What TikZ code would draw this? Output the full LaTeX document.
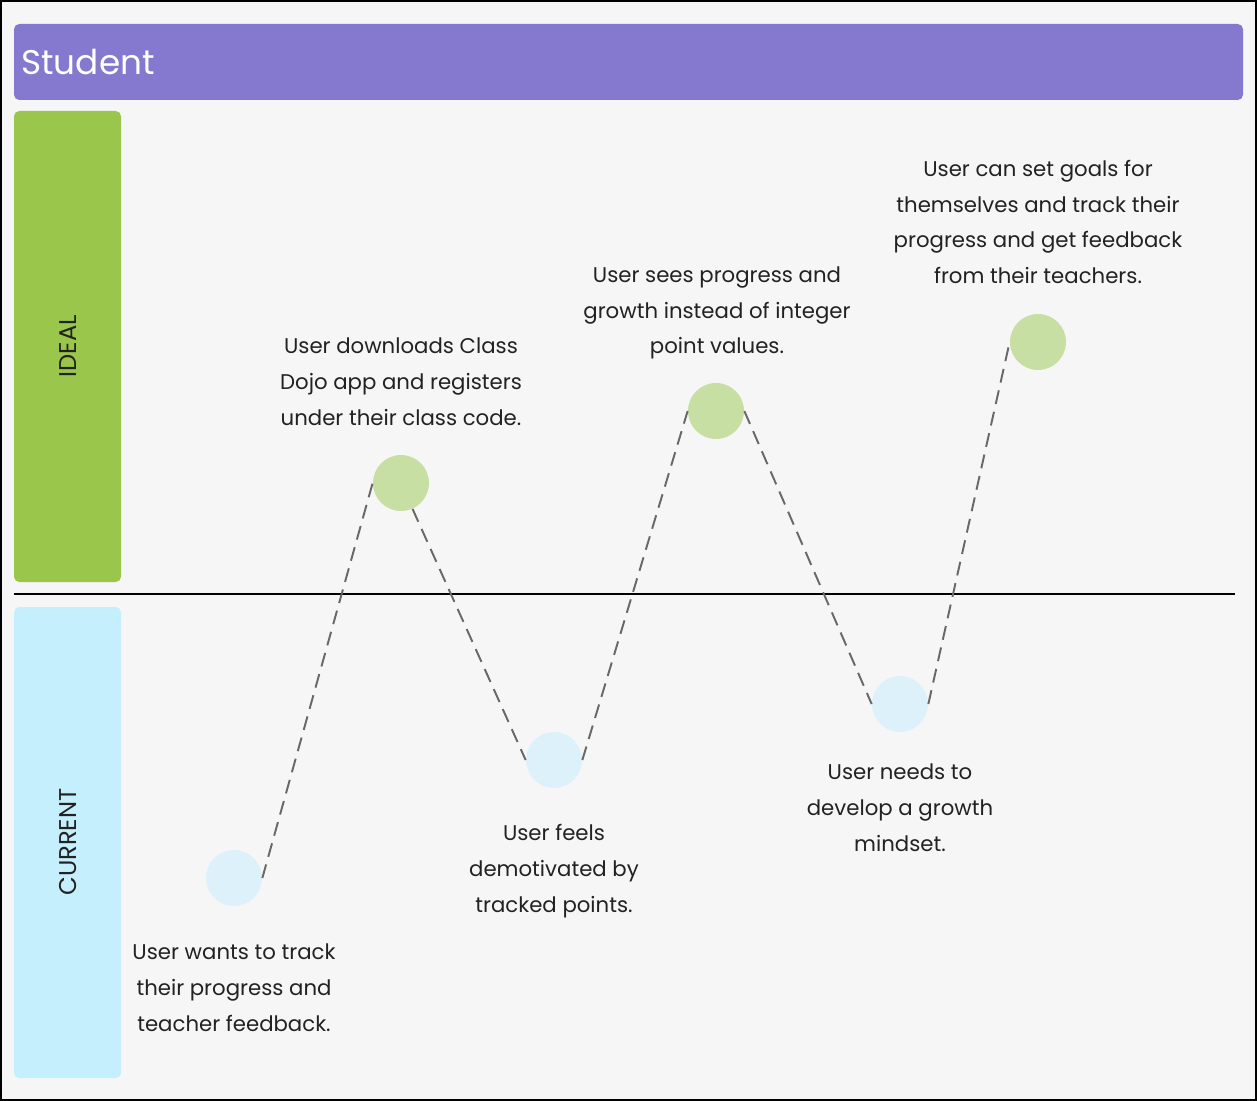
\documentclass[tikz,border=0pt]{standalone}
\usepackage{fontspec}
\setmainfont{Poppins}
\usetikzlibrary{positioning}
\definecolor{pagebg}{HTML}{F6F6F6}
\definecolor{headpurple}{HTML}{8479CF}
\definecolor{idealgreen}{HTML}{99C64B}
\definecolor{currentblue}{HTML}{C6EFFD}
\definecolor{dotgreen}{HTML}{C7DFA2}
\definecolor{dotblue}{HTML}{DDF1FB}
\definecolor{inkgray}{HTML}{222222}
\definecolor{dashgray}{HTML}{686868}

\begin{document}
\begin{tikzpicture}[x=0.02cm, y=-0.02cm,
  band/.style={rounded corners=3pt},
  lane/.style={rotate=90, font=\fontsize{13.8}{16}\selectfont, text=inkgray},
  stage/.style={circle, inner sep=0pt, minimum size=1.12cm},
  caption/.style={align=center, text=inkgray,
    font=\fontsize{12.1}{20.4}\selectfont},
  journey/.style={draw=dashgray, line width=1.1pt, dash pattern=on 8pt off 4.5pt}]
  % page and frame
  \useasboundingbox (0,0) rectangle (1257,1101);
  \fill[pagebg] (0,0) rectangle (1257,1101);
  \draw[black, line width=1.2pt] (1,1) rectangle (1256,1100);

  % header and lanes
  \fill[band, headpurple] (14,24) rectangle (1243,100);
  \node[anchor=west, inner sep=0pt, text=white, font=\fontsize{19.5}{23}\selectfont] (title) at (21,62) {Student};
  \fill[band, idealgreen] (14,111) rectangle (121,582);
  \fill[band, currentblue] (14,607) rectangle (121,1078);
  \node[lane] (ideal) at (68,346) {IDEAL};
  \node[lane] (current) at (68,842) {CURRENT};
  \draw[black, line width=0.6pt] (14,594) -- (1235,594);

  % stages
  \node[stage, fill=dotblue] (c1) at (234,878) {};
  \node[stage, fill=dotgreen] (i1) at (401,483) {};
  \node[stage, fill=dotblue] (c2) at (554,760) {};
  \node[stage, fill=dotgreen] (i2) at (716,411) {};
  \node[stage, fill=dotblue] (c3) at (900,704) {};
  \node[stage, fill=dotgreen] (i3) at (1038,342) {};

  \draw[journey] (c1.east) -- (i1.west);
  \draw[journey] (i1.-66) -- (c2.west);
  \draw[journey] (c2.east) -- (i2.west);
  \draw[journey] (i2.east) -- (c3.west);
  \draw[journey] (c3.east) -- (i3.west);

  % captions
  \node[caption] (c1text) at (234,988) {User wants to track\\their progress and\\teacher feedback.};
  \node[caption] (i1text) at (401,382) {User downloads Class\\Dojo app and registers\\under their class code.};
  \node[caption] (c2text) at (554,871) {User feels\\demotivated by\\tracked points.};
  \node[caption] (i2text) at (717,313) {User sees progress and\\growth instead of integer\\point values.};
  \node[caption] (c3text) at (900,808) {User needs to\\develop a growth\\mindset.};
  \node[caption] (i3text) at (1038,222) {User can set goals for\\themselves and track their\\progress and get feedback\\from their teachers.};
\end{tikzpicture}
\end{document}
